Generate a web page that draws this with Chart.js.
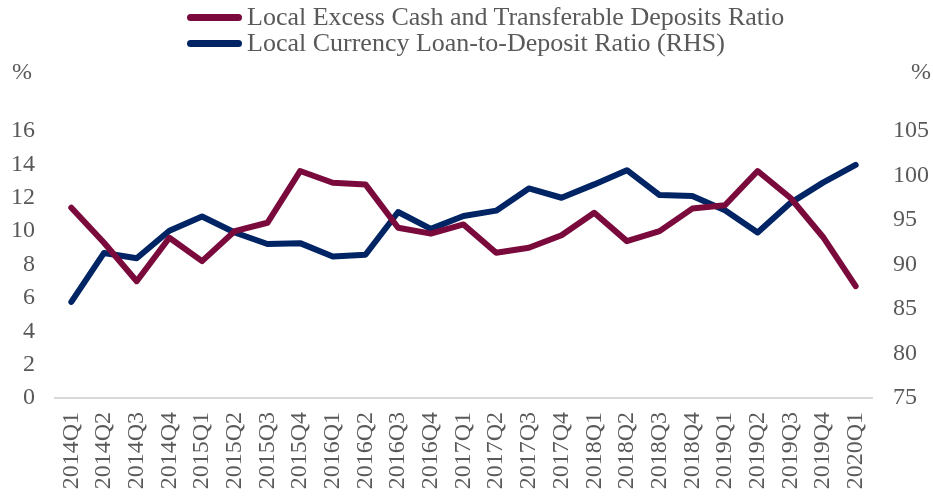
<!DOCTYPE html>
<html>
<head>
<meta charset="utf-8">
<script src="https://cdn.jsdelivr.net/npm/chart.js@4"></script>
<style>
  html, body { margin: 0; padding: 0; background: #fff; }
  #wrap { position: relative; width: 933px; height: 497px; }
  #legend { position: absolute; left: 187px; top: 4px; font-family: "Liberation Serif", serif; font-size: 26px; color: #595959; }
  .item { display: flex; align-items: center; height: 26px; line-height: 26px; white-space: nowrap; }
  .swatch { width: 55px; height: 7px; border-radius: 3.5px; margin-right: 5px; }
</style>
</head>
<body>
<div id="wrap">
  <canvas id="c" width="933" height="497"></canvas>
  <div id="legend"></div>
</div>
<script>
const categories = ["2014Q1","2014Q2","2014Q3","2014Q4","2015Q1","2015Q2","2015Q3","2015Q4",
  "2016Q1","2016Q2","2016Q3","2016Q4","2017Q1","2017Q2","2017Q3","2017Q4",
  "2018Q1","2018Q2","2018Q3","2018Q4","2019Q1","2019Q2","2019Q3","2019Q4","2020Q1"];
const excessCashRatio = [11.4, 9.3, 7.0, 9.6, 8.2, 10.0, 10.5, 13.6,
  12.9, 12.8, 10.2, 9.85, 10.4, 8.7, 9.0, 9.75,
  11.1, 9.4, 10.0, 11.35, 11.55, 13.6, 12.0, 9.65, 6.7];
const loanToDepositRatio = [85.8, 91.3, 90.7, 93.8, 95.4, 93.6, 92.3, 92.4,
  90.9, 91.1, 95.9, 94.0, 95.45, 96.05, 98.55, 97.5,
  99.0, 100.6, 97.8, 97.7, 96.1, 93.6, 96.9, 99.2, 101.2];
const seriesNames = ["Local Excess Cash and Transferable Deposits Ratio", "Local Currency Loan-to-Deposit Ratio (RHS)"];
const seriesColors = ["#7a0a3c", "#002464"];
const leftTicks = [0, 16, 2];
const rightTicks = [75, 105, 5];

const textColor = "#595959";
const fontFamily = "'Liberation Serif', serif";

const pctPlugin = {
  id: 'pct',
  afterDraw(chart) {
    const ctx = chart.ctx;
    ctx.save();
    ctx.fillStyle = textColor;
    ctx.font = "24px " + fontFamily;
    ctx.textAlign = 'center';
    ctx.textBaseline = 'middle';
    ctx.fillText('%', 22, 73);
    ctx.fillText('%', 921, 73);
    ctx.restore();
  }
};

const chart = new Chart(document.getElementById('c'), {
  type: 'line',
  data: {
    labels: categories,
    datasets: [
      { label: seriesNames[0], data: excessCashRatio, yAxisID: 'y', borderColor: seriesColors[0], backgroundColor: seriesColors[0] },
      { label: seriesNames[1], data: loanToDepositRatio, yAxisID: 'y1', borderColor: seriesColors[1], backgroundColor: seriesColors[1] }
    ]
  },
  options: {
    responsive: false,
    animation: false,
    layout: { padding: { top: 131, left: 0, right: 0, bottom: 0 } },
    elements: {
      line: { borderWidth: 6, tension: 0, borderCapStyle: 'round', borderJoinStyle: 'round' },
      point: { radius: 0, hoverRadius: 0 }
    },
    plugins: { legend: { display: false }, tooltip: { enabled: false } },
    scales: {
      x: {
        offset: true,
        grid: { display: false, drawTicks: false },
        border: { display: true, color: '#d9d9d9', width: 2 },
        ticks: { color: textColor, font: { family: fontFamily, size: 24 }, minRotation: 90, maxRotation: 90, padding: 14, autoSkip: false },
        afterFit(s) { s.height = 99; }
      },
      y: {
        position: 'left',
        min: leftTicks[0], max: leftTicks[1],
        grid: { display: false, drawTicks: false },
        border: { display: false },
        ticks: { stepSize: leftTicks[2], color: textColor, font: { family: fontFamily, size: 24 }, padding: 20 },
        afterFit(s) { s.width = 55; }
      },
      y1: {
        position: 'right',
        min: rightTicks[0], max: rightTicks[1],
        grid: { display: false, drawOnChartArea: false, drawTicks: false },
        border: { display: false },
        ticks: { stepSize: rightTicks[2], color: textColor, font: { family: fontFamily, size: 24 }, padding: 21 },
        afterFit(s) { s.width = 61; }
      }
    }
  },
  plugins: [pctPlugin]
});

const leg = document.getElementById('legend');
chart.data.datasets.forEach(ds => {
  const it = document.createElement('div');
  it.className = 'item';
  const sw = document.createElement('span');
  sw.className = 'swatch';
  sw.style.background = ds.borderColor;
  const tx = document.createElement('span');
  tx.textContent = ds.label;
  it.appendChild(sw); it.appendChild(tx);
  leg.appendChild(it);
});
</script>
</body>
</html>
